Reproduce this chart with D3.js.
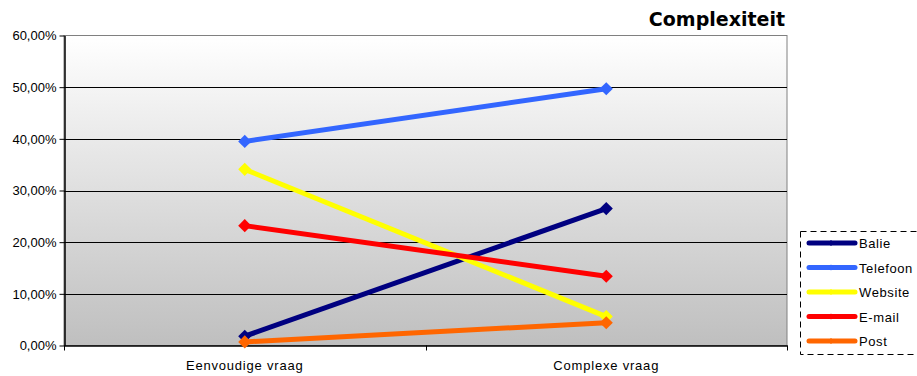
<!DOCTYPE html>
<html>
<head>
<meta charset="utf-8">
<script src="https://cdn.jsdelivr.net/npm/d3@7"></script>
<style>
  html, body { margin: 0; padding: 0; background: #fff; }
  svg { display: block; }
</style>
</head>
<body>
<svg id="chart" width="917" height="376"></svg>
<script>
// Categories along the x axis
const categories = ["Eenvoudige vraag", "Complexe vraag"];
// Channel names and their colours
const seriesNames = ["Balie", "Telefoon", "Website", "E-mail", "Post"];
const seriesColors = ["#000080", "#3366ff", "#ffff00", "#ff0000", "#ff6600"];
// Share per channel (fraction) for each category
const balie    = [0.018, 0.265];
const telefoon = [0.395, 0.497];
const website  = [0.341, 0.056];
const email    = [0.232, 0.134];
const post     = [0.007, 0.044];
const yTicks   = [0, 0.1, 0.2, 0.3, 0.4, 0.5, 0.6];

const seriesValues = [balie, telefoon, website, email, post];
const series = seriesNames.map((name, i) => ({
  name, color: seriesColors[i], values: seriesValues[i]
}));

const svg = d3.select("#chart");
const margin = { left: 64, right: 787, top: 35.5, bottom: 345.5 };
const FONT = "Liberation Sans, Arial, sans-serif";

const x = d3.scaleBand().domain(categories).range([margin.left, margin.right]);
const y = d3.scaleLinear().domain([0, 0.6]).range([margin.bottom, margin.top]);

// Plot background gradient
const defs = svg.append("defs");
const grad = defs.append("linearGradient").attr("id", "bg")
  .attr("x1", 0).attr("y1", 0).attr("x2", 0).attr("y2", 1);
grad.append("stop").attr("offset", "0%").attr("stop-color", "#ffffff");
grad.append("stop").attr("offset", "100%").attr("stop-color", "#bfbfbf");

svg.append("rect")
  .attr("x", margin.left).attr("y", margin.top)
  .attr("width", margin.right - margin.left)
  .attr("height", margin.bottom - margin.top)
  .attr("fill", "url(#bg)")
  .attr("stroke", "#808080").attr("stroke-width", 1);

// Horizontal gridlines
svg.append("g").selectAll("line")
  .data(yTicks.filter(t => t > 0 && t < 0.6))
  .join("line")
  .attr("x1", margin.left).attr("x2", margin.right)
  .attr("y1", d => Math.round(y(d)) + 0.5).attr("y2", d => Math.round(y(d)) + 0.5)
  .attr("stroke", "#000").attr("stroke-width", 1);

// Y axis
const fmt = d => d3.format(".2f")(d * 100).replace(".", ",") + "%";
const yAxis = svg.append("g")
  .attr("transform", `translate(${margin.left + 0.5},0)`)
  .call(d3.axisLeft(y).tickValues(yTicks).tickFormat(fmt).tickSize(5).tickSizeOuter(0));
yAxis.select(".domain").attr("stroke", "#000").attr("stroke-width", 1.5);
yAxis.selectAll(".tick line").attr("stroke", "#000");
yAxis.selectAll("text")
  .attr("font-family", FONT)
  .attr("font-size", 13).attr("fill", "#000").attr("x", -8);

// X axis
const xAxis = svg.append("g")
  .attr("transform", `translate(0,${margin.bottom})`)
  .call(d3.axisBottom(x).tickSize(0).tickSizeOuter(0));
xAxis.select(".domain").attr("stroke", "#000").attr("stroke-width", 1.5);
xAxis.selectAll("text")
  .attr("font-family", FONT)
  .attr("font-size", 13).attr("letter-spacing", 0.8).attr("fill", "#000")
  .attr("y", 24).attr("dy", 0);
// Category separator ticks
const bounds = [margin.left, margin.left + x.step(), margin.right];
svg.append("g").selectAll("line").data(bounds).join("line")
  .attr("x1", d => Math.round(d) + 0.5).attr("x2", d => Math.round(d) + 0.5)
  .attr("y1", margin.bottom).attr("y2", margin.bottom + 5)
  .attr("stroke", "#000");

// Series lines and diamond markers
const cx = c => x(c) + x.bandwidth() / 2;
const line = d3.line().x((d, i) => cx(categories[i])).y(d => y(d));
const diamond = d3.symbol().type(d3.symbolDiamond2).size(110);

const sg = svg.append("g").selectAll("g").data(series).join("g");
sg.append("path")
  .attr("d", d => line(d.values))
  .attr("fill", "none").attr("stroke", d => d.color)
  .attr("stroke-width", 5).attr("stroke-linecap", "butt");
sg.each(function(s) {
  d3.select(this).selectAll("path.m").data(s.values).join("path")
    .attr("class", "m")
    .attr("d", diamond)
    .attr("transform", (d, i) => `translate(${cx(categories[i])},${y(d)})`)
    .attr("fill", s.color);
});

// Title
svg.append("text")
  .attr("x", 785).attr("y", 26)
  .attr("text-anchor", "end")
  .attr("font-family", "DejaVu Sans, Verdana, sans-serif")
  .attr("font-weight", "bold").attr("font-size", 19)
  .attr("fill", "#000")
  .text("Complexiteit");

// Legend
const lg = svg.append("g");
lg.append("rect")
  .attr("x", 800.5).attr("y", 231.5).attr("width", 130).attr("height", 123)
  .attr("fill", "#fff").attr("stroke", "#000").attr("stroke-dasharray", "6,4");
const item = lg.selectAll("g.item").data(series).join("g")
  .attr("class", "item")
  .attr("transform", (d, i) => `translate(0,${243 + i * 24.5})`);
item.append("line")
  .attr("x1", 809).attr("x2", 855).attr("y1", 0).attr("y2", 0)
  .attr("stroke", d => d.color).attr("stroke-width", 5).attr("stroke-linecap", "round");
item.append("path")
  .attr("d", d3.symbol().type(d3.symbolDiamond2).size(24))
  .attr("transform", "translate(831,0)")
  .attr("fill", d => d.color);
item.append("text")
  .attr("x", 859).attr("y", 5)
  .attr("font-family", FONT)
  .attr("font-size", 13).attr("letter-spacing", 0.6).attr("fill", "#000")
  .text(d => d.name);
</script>
</body>
</html>
